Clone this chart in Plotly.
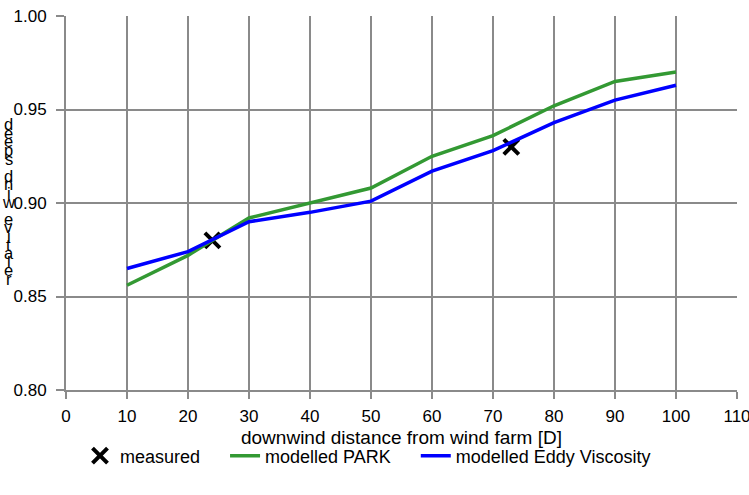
import plotly.graph_objects as go

distance = [10, 20, 30, 40, 50, 60, 70, 80, 90, 100]
park = [0.856, 0.872, 0.892, 0.900, 0.908, 0.925, 0.936, 0.952, 0.965, 0.970]
eddy = [0.865, 0.874, 0.890, 0.895, 0.901, 0.917, 0.928, 0.943, 0.955, 0.963]
measured_x = [24, 73]
measured_y = [0.880, 0.930]

ytitle = "relative wind speed"
FONT = "Liberation Sans, Arial, sans-serif"
GRID = "#8a8a8a"
PAD = "\u00a0" * 4

fig = go.Figure()
fig.add_trace(go.Scatter(x=measured_x, y=measured_y, mode="markers", name="measured" + PAD,
                         marker=dict(symbol="x-thin", size=15, color="black",
                                     line=dict(width=4, color="black"))))
fig.add_trace(go.Scatter(x=distance, y=park, mode="lines", name="modelled PARK" + PAD,
                         line=dict(color="#339933", width=3.5)))
fig.add_trace(go.Scatter(x=distance, y=eddy, mode="lines", name="modelled Eddy Viscosity",
                         line=dict(color="#0000ff", width=3.5)))

# stacked vertical y-axis title (upright glyphs, read bottom to top)
L, T, W, H = 66, 16, 671, 374
annotations = []
for i, ch in enumerate(ytitle):
    py = 279 - i * 8.6
    annotations.append(dict(text=ch, xref="paper", yref="paper",
                            x=(9 - L) / W, y=(T + H - py) / H,
                            xanchor="center", yanchor="middle", showarrow=False,
                            font=dict(family=FONT, size=16.5, color="black")))

fig.update_layout(
    width=749, height=495,
    margin=dict(l=L, r=749 - L - W, t=T, b=495 - T - H),
    paper_bgcolor="white", plot_bgcolor="white",
    font=dict(family=FONT, size=17, color="black"),
    showlegend=True,
    legend=dict(orientation="h", x=(80 - L) / W, xanchor="left", y=(T + H - 456) / H,
                yanchor="middle", font=dict(size=18), tracegroupgap=0,
                bgcolor="rgba(0,0,0,0)"),
    annotations=annotations,
    xaxis=dict(range=[0, 110], dtick=10, tick0=0, showgrid=True, gridcolor=GRID, gridwidth=2,
               showline=True, linecolor=GRID, linewidth=2, ticks="outside", ticklen=7,
               tickcolor=GRID, tickwidth=2, zeroline=False, automargin=False,
               ticklabelstandoff=3, ticklabeloverflow="allow",
               title=dict(text="downwind distance from wind farm [D]", standoff=5,
                          font=dict(size=19))),
    yaxis=dict(range=[0.80, 1.00], dtick=0.05, tickformat=".2f", showgrid=True,
               gridcolor=GRID, gridwidth=2, showline=True, linecolor=GRID, linewidth=2,
               ticks="outside", ticklen=8, tickcolor=GRID, tickwidth=2, zeroline=False,
               automargin=False, ticklabelstandoff=6, ticklabeloverflow="allow"),
)

fig.write_html("out.html")
